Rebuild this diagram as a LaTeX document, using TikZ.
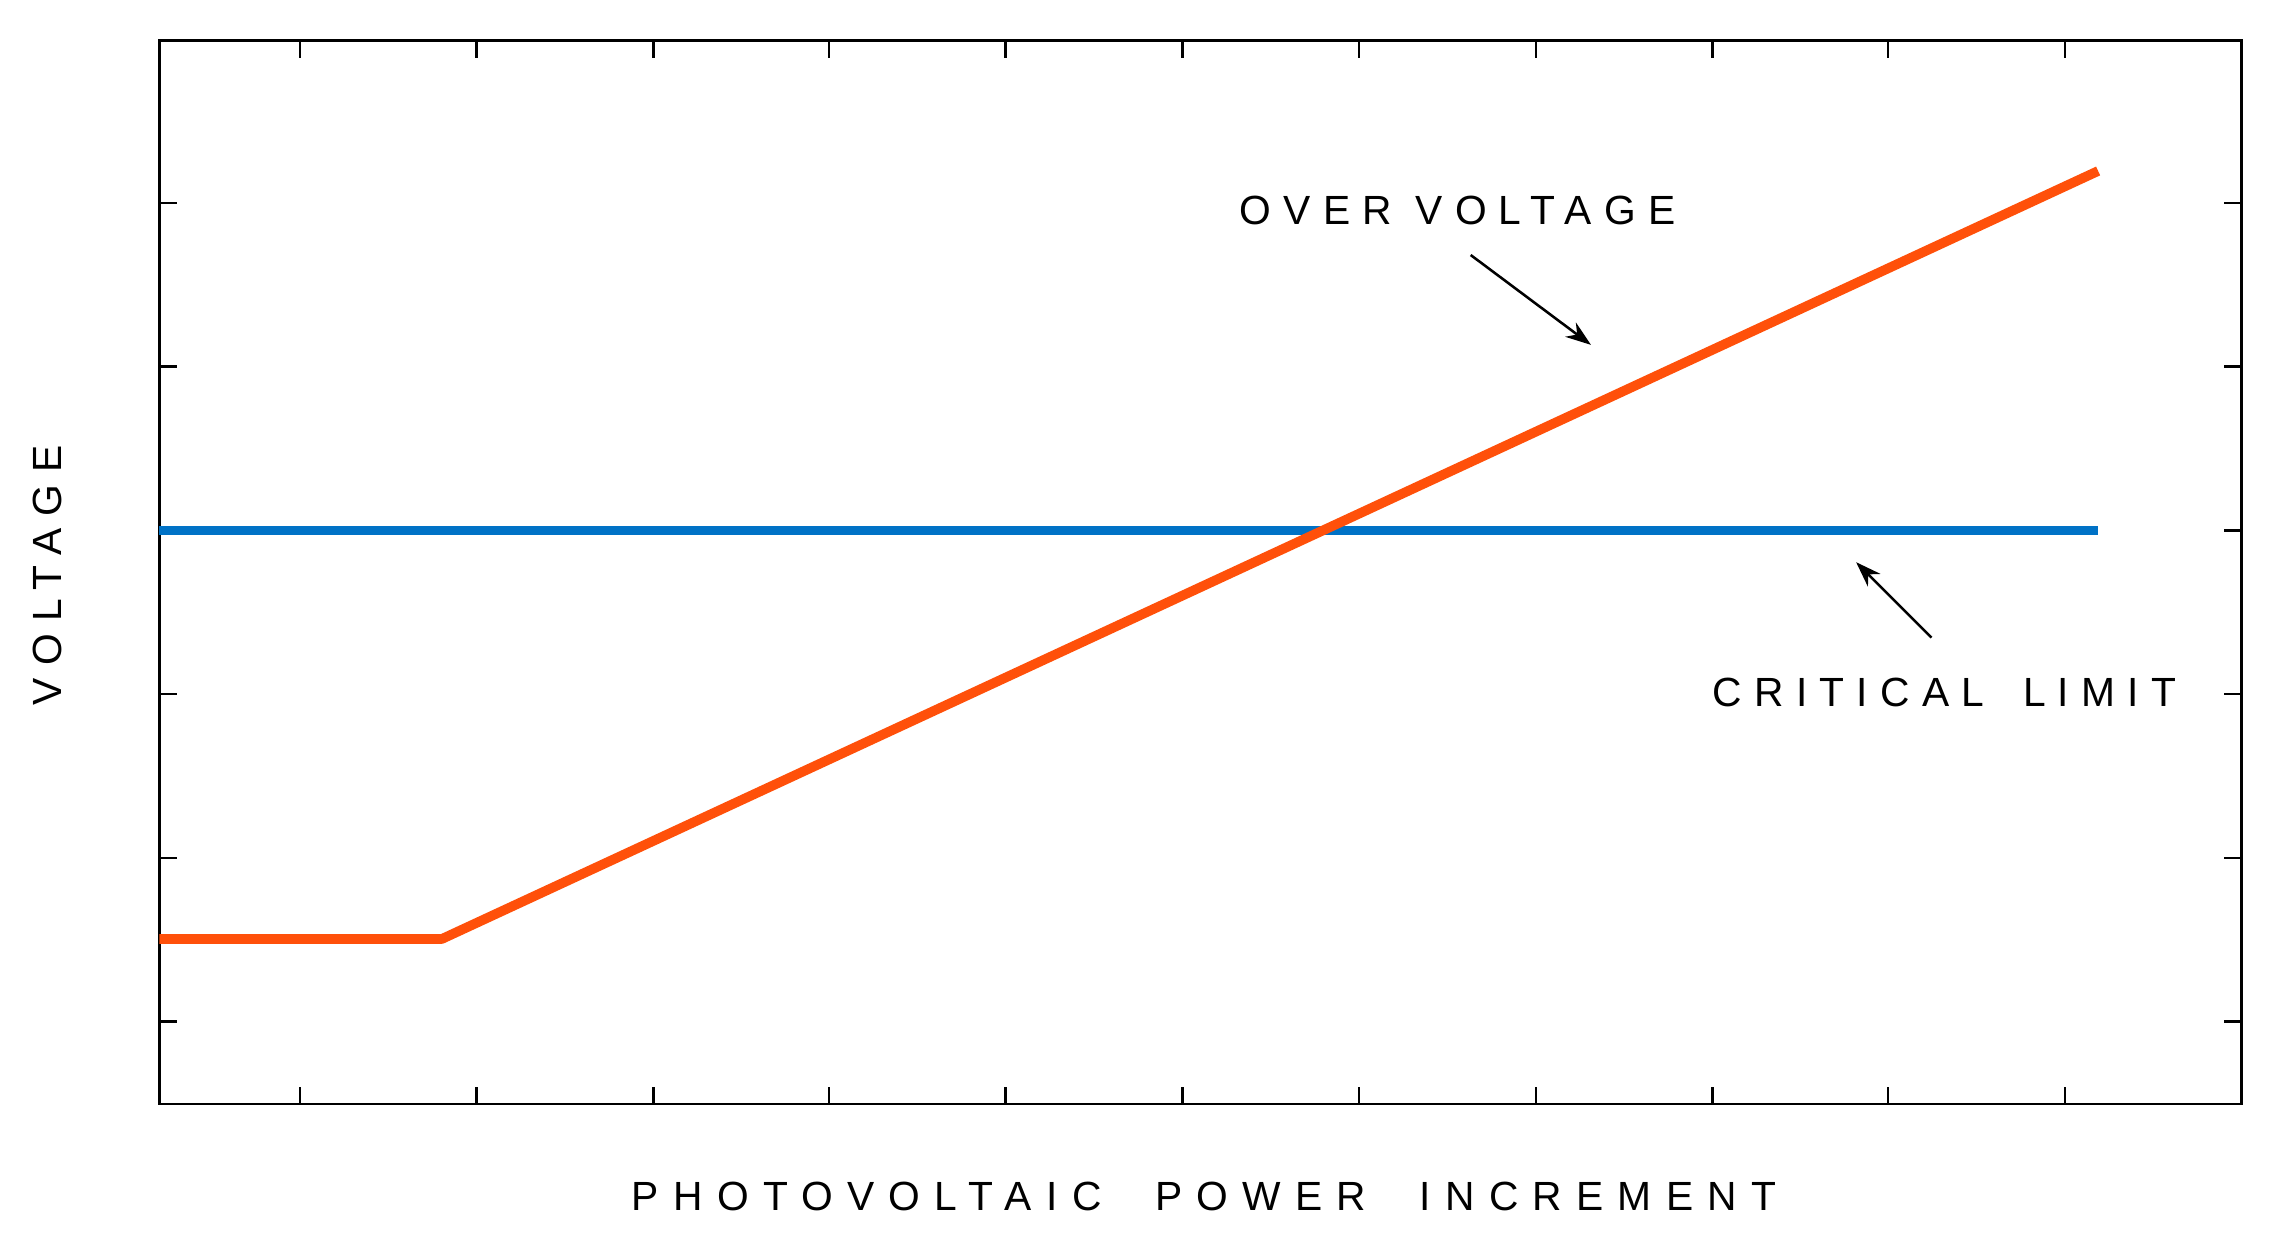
\documentclass[tikz,border=0pt]{standalone}
\usepackage{fontspec}
\setmainfont{Liberation Sans}
\newfontfamily\spaced[LetterSpace=30]{Liberation Sans}
\newfontfamily\wspaced[LetterSpace=35]{Liberation Sans}
\usetikzlibrary{arrows.meta}
\begin{document}
\begin{tikzpicture}[x=0.01cm,y=-0.01cm,
  lbl/.style={font=\spaced\fontsize{8}{10}\selectfont, inner sep=0pt},
  ptr/.style={-{Stealth[length=5pt,width=3.5pt]}, line width=0.5pt},
  tick/.style={line width=0.5pt}]
\useasboundingbox (0,0) rectangle (1568,860);
\draw[line width=0.5pt] (110,28) rectangle (1547,762);
\foreach \x in {207,329,451,572,694,816,938,1060,1182,1303,1425}{
  \draw[tick] (\x,28) -- (\x,40); \draw[tick] (\x,762) -- (\x,750);}
\foreach \y in {140,253,366,479,592,705}{
  \draw[tick] (110,\y) -- (122,\y); \draw[tick] (1547,\y) -- (1535,\y);}
\coordinate (b0) at (110,366); \coordinate (b1) at (1448,366);
\draw[line width=1.7pt, color={rgb,255:red,0;green,114;blue,198}] (b0) -- (b1);
\coordinate (o0) at (110,648); \coordinate (o1) at (305,648); \coordinate (o2) at (1448,118);
\draw[line width=1.9pt, color={rgb,255:red,255;green,80;blue,10}, line join=round] (o0) -- (o1) -- (o2);
\node[lbl] (ov) at (1006,145) {OVER VOLTAGE};
\node[lbl] (cl) at (1342,478) {CRITICAL\hspace{3pt} LIMIT};
\coordinate (a0) at (1015,176); \coordinate (a1) at (1098,238);
\draw[ptr] (a0) -- (a1);
\coordinate (c0) at (1333,440); \coordinate (c1) at (1281,388);
\draw[ptr] (c0) -- (c1);
\node[lbl, rotate=90] (yl) at (33,397) {VOLTAGE};
\node[lbl, font=\wspaced\fontsize{8}{10}\selectfont] (xl) at (831,826) {PHOTOVOLTAIC\hspace{5.5pt} POWER\hspace{5.5pt} INCREMENT};
\end{tikzpicture}
\end{document}
